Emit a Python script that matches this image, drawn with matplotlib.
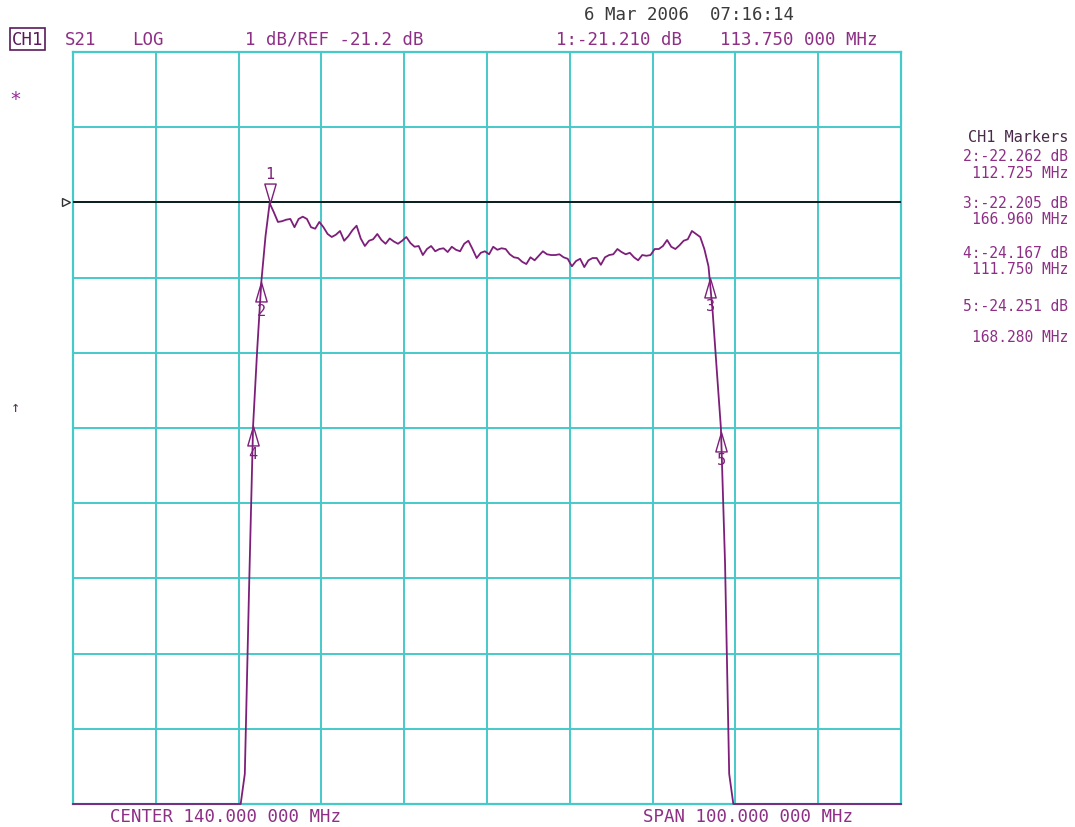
import numpy as np
import matplotlib
matplotlib.use("Agg")
import matplotlib.pyplot as plt
from matplotlib.path import Path

# Instrument settings
CENTER_MHZ = 140.0
SPAN_MHZ = 100.0
REF_DB = -21.2
SCALE_DB = 1.0

# Trace: passband sweep points (0.5 MHz step) and levels in dB
band_start, band_stop, band_step = 110.25, 169.75, 0.5
band_db = [
    -31.0, -28.8, -26.4, -24.17, -23.15, -22.25, -21.65, -21.21,
    -21.33, -21.46, -21.45, -21.43, -21.42, -21.53, -21.42, -21.39,
    -21.42, -21.53, -21.55, -21.46, -21.53, -21.62, -21.66, -21.63,
    -21.58, -21.71, -21.65, -21.57, -21.51, -21.68, -21.78, -21.71,
    -21.69, -21.62, -21.70, -21.75, -21.68, -21.72, -21.75, -21.71,
    -21.66,
    -21.74, -21.79, -21.78, -21.90, -21.82, -21.78, -21.85, -21.82,
    -21.81, -21.86, -21.79, -21.83, -21.85, -21.75, -21.71, -21.82,
    -21.94, -21.87, -21.85, -21.89, -21.79, -21.83, -21.81, -21.82,
    -21.89, -21.93, -21.94, -21.99, -22.02, -21.93, -21.97, -21.91,
    -21.85, -21.89,
    -21.90, -21.90, -21.89, -21.93, -21.95, -22.05, -21.98, -21.95,
    -22.06, -21.97, -21.94, -21.94, -22.03, -21.93, -21.90, -21.89,
    -21.82, -21.86, -21.89, -21.87, -21.93, -21.97, -21.90, -21.91,
    -21.90, -21.82, -21.82, -21.78, -21.70, -21.79, -21.82, -21.77,
    -21.71, -21.69, -21.58, -21.62, -21.66, -21.82, -22.05, -22.65,
    -23.43, -24.20, -26.0, -28.8, -31.0,
]
out_of_band_db = -31.0

# Marker readouts
marker_ids = ["1", "2", "3", "4", "5"]
marker_mhz = [113.750, 112.725, 166.960, 111.750, 168.280]
marker_db = [-21.210, -22.262, -22.205, -24.167, -24.251]

PURPLE = "#7d1f7a"
TEXT_PURPLE = "#8e2f86"
CYAN = "#45c9c9"
MONO = "DejaVu Sans Mono"

W, H = 1075, 828
fig = plt.figure(figsize=(W / 100, H / 100), dpi=100)
fig.patch.set_facecolor("white")
ax = fig.add_axes([73 / W, 1 - 805 / H, (901 - 73) / W, (805 - 53) / H])

f_lo = CENTER_MHZ - SPAN_MHZ / 2
f_hi = CENTER_MHZ + SPAN_MHZ / 2
y_lo = REF_DB - 8 * SCALE_DB
y_hi = REF_DB + 2 * SCALE_DB
ax.set_xlim(f_lo, f_hi)
ax.set_ylim(y_lo, y_hi)

# 10 x 10 graticule
ax.set_xticks(np.linspace(f_lo, f_hi, 11))
ax.set_yticks(np.linspace(y_lo, y_hi, 11))
ax.grid(True, color=CYAN, lw=1.4)
ax.tick_params(length=0, labelbottom=False, labelleft=False)
for s in ax.spines.values():
    s.set_color(CYAN)
    s.set_linewidth(1.6)

# reference line and its pointer at the left edge
ax.axhline(REF_DB, color="black", lw=1.2, zorder=3)
ax.plot([-0.009], [REF_DB], marker=">", ms=6, mfc="white", mec="#333333",
        transform=ax.get_yaxis_transform(), clip_on=False)

# trace, clipped to the screen like on the analyzer
band_freq = np.arange(band_start, band_stop + band_step / 2, band_step)
freq = np.concatenate([[f_lo], band_freq, [f_hi]])
db = np.concatenate([[out_of_band_db], band_db, [out_of_band_db]])
ax.plot(freq, np.clip(db, y_lo, y_hi), color=PURPLE, lw=1.3, zorder=4, clip_on=False)

# marker triangles with tip on the trace
tri_down = Path([(0, 0), (-0.35, 1.2), (0.35, 1.2), (0, 0)],
                [Path.MOVETO, Path.LINETO, Path.LINETO, Path.CLOSEPOLY])
tri_up = Path([(0, 0), (-0.35, -1.2), (0.35, -1.2), (0, 0)],
              [Path.MOVETO, Path.LINETO, Path.LINETO, Path.CLOSEPOLY])
for i, (mid, mf, md) in enumerate(zip(marker_ids, marker_mhz, marker_db)):
    active = i == 0
    ax.plot([mf], [md], marker=tri_down if active else tri_up, ms=28,
            mfc="none", mec=PURPLE, mew=1.0, zorder=5)
    ax.annotate(mid, (mf, md), xytext=(0, 21 if active else -20),
                textcoords="offset points", ha="center", va="center",
                fontsize=11, family=MONO, color=PURPLE, zorder=5)


def px_text(x, y, s, **kw):
    kw.setdefault("family", MONO)
    kw.setdefault("fontsize", 12.5)
    kw.setdefault("color", TEXT_PURPLE)
    kw.setdefault("va", "center")
    return fig.text(x / W, 1 - y / H, s, **kw)


# header lines
px_text(584, 15, "6 Mar 2006  07:16:14", color="#3a3a3a")
px_text(12, 40, "CH1", color="#5a1a5a",
        bbox=dict(boxstyle="square,pad=0.1", fc="white", ec="#5a1a5a", lw=1.2))
px_text(65, 40, "S21")
px_text(132, 40, "LOG")
px_text(245, 40, "1 dB/REF -21.2 dB")
px_text(556, 40, "1:-21.210 dB")
px_text(720, 40, "113.750 000 MHz")

# footer lines
px_text(110, 817, "CENTER 140.000 000 MHz")
px_text(643, 817, "SPAN 100.000 000 MHz")

# left side annotations
px_text(15, 100, "*", fontsize=14, ha="center", color="#9a2a9a")
px_text(15, 408, "\u2191", fontsize=11, ha="center", color="#5a3a5a")

# marker table on the right
px_text(1068, 137, "CH1 Markers", ha="right", color="#4a2a4a", fontsize=11)
table = [
    (157, "2:-22.262 dB"), (173, "112.725 MHz"),
    (204, "3:-22.205 dB"), (220, "166.960 MHz"),
    (253, "4:-24.167 dB"), (269, "111.750 MHz"),
    (307, "5:-24.251 dB"), (337, "168.280 MHz"),
]
for y, s in table:
    px_text(1068, y, s, ha="right", fontsize=10.5)

fig.savefig("out.png", dpi=100, facecolor="white")
